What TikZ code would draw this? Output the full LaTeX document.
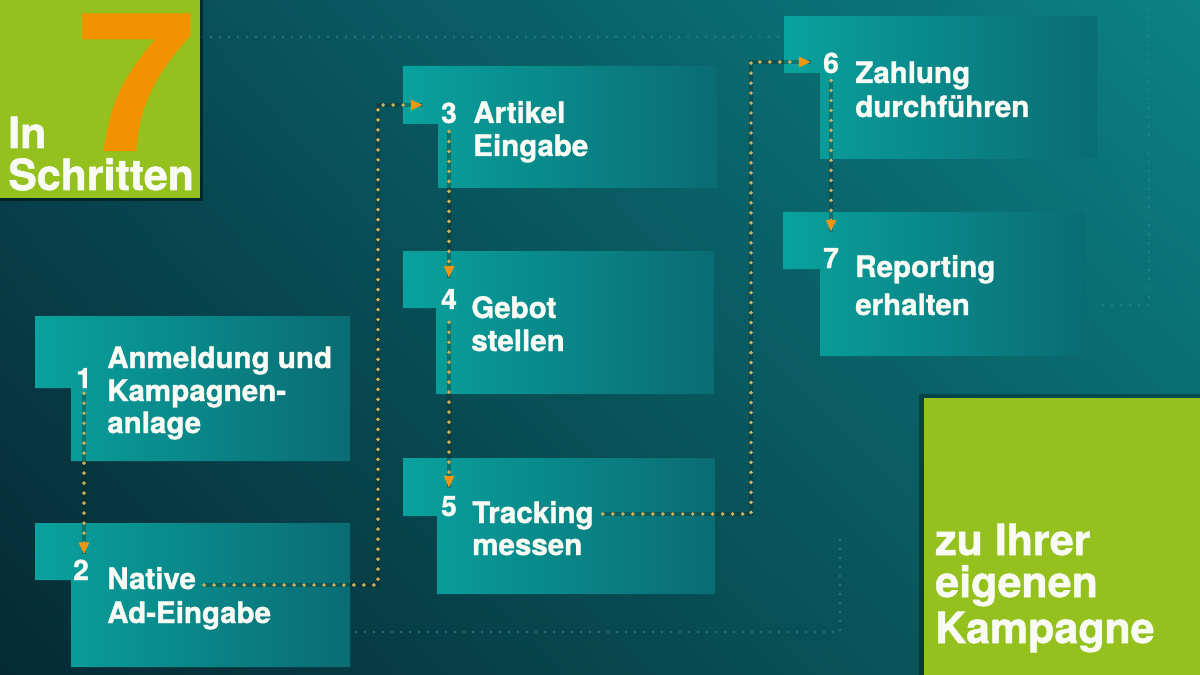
\documentclass[tikz,border=0pt]{standalone}
\usepackage{fontspec}
\setmainfont{TeX Gyre Heros}[BoldFeatures={FakeBold=1.2}]
\usepackage{graphicx}
\usetikzlibrary{arrows.meta,calc,shadings}
\definecolor{bgUL}{RGB}{8,70,82}
\definecolor{bgUR}{RGB}{11,130,132}
\definecolor{bgLL}{RGB}{5,42,52}
\definecolor{bgLR}{RGB}{10,96,102}
\definecolor{boxL}{RGB}{9,162,158}
\definecolor{boxR}{RGB}{10,108,115}
\definecolor{limeg}{RGB}{149,193,31}
\definecolor{oranges}{RGB}{243,146,0}
\definecolor{dotc}{RGB}{208,178,90}
\definecolor{dotsh}{RGB}{20,40,30}
\definecolor{arrc}{RGB}{240,150,20}
\definecolor{faintc}{RGB}{45,135,140}
\definecolor{txt}{RGB}{248,250,244}
\newcommand\stepshape[6]{%
  \path[boxfill] (#1,#2) -- (#3,#2) -- (#3,#4) -- (#5,#4) -- (#5,#6) -- (#1,#6) -- cycle;}
\tikzset{
  boxfill/.style={left color=boxL, right color=boxR, draw=none},
  num/.style={font=\fontsize{20}{20}\selectfont\bfseries, text=txt, inner sep=0pt, anchor=base},
  lbl/.style={font=\fontsize{21}{21}\selectfont\bfseries, text=txt, inner sep=0pt, anchor=base west},
  big/.style={font=\fontsize{30.5}{30.5}\selectfont\bfseries, text=txt, inner sep=0pt, anchor=base west},
  conn/.style={draw=dotc, line width=2.8pt, line cap=round, dash pattern=on 0pt off 7.1pt,
    preaction={draw=dotsh, draw opacity=0.35, line width=3.4pt, arrows=-},
    -{Triangle[length=8.5pt,width=7pt,color=arrc,fill=arrc]}},
  faint/.style={draw=faintc, line width=2pt, line cap=round, dash pattern=on 0pt off 6.4pt, opacity=0.7},
}
\begin{document}
\begin{tikzpicture}[x=0.025cm,y=-0.025cm]
\useasboundingbox (0,0) rectangle (1200,675);
% background
\path[upper left=bgUL, upper right=bgUR, lower left=bgLL, lower right=bgLR] (0,0) rectangle (1200,675);
% faint background dotted lines
\draw[faint] (202,37) -- (790,37);
\draw[faint] (1149,0) -- (1149,305) -- (1098,305);
\draw[faint] (347,632) -- (840,632) -- (840,540);
% top-left green block
\fill[black, opacity=0.45] (0,0) rectangle (203,201);
\fill[limeg] (0,0) rectangle (200,198);
\node[inner sep=0pt, anchor=base, text=oranges, font=\fontsize{136}{136}\selectfont\bfseries] (seven) at (136,150) {\scalebox{1.11}[1]{7}};
\node[big] (in) at (8,148) {In};
\node[big] (schritte) at (8,190) {Schritten};
% bottom-right green block
\fill[black, opacity=0.3] (919,394) rectangle (1200,675);
\fill[limeg] (924,398) rectangle (1200,675);
\node[big] (zu) at (935,555) {zu Ihrer};
\node[big] (eig) at (935,597) {eigenen};
\node[big] (kamp) at (935,643) {Kampagne};
% step boxes
\stepshape{35}{316}{350}{461}{71}{388}
\stepshape{35}{523}{350}{667}{71}{580}
\stepshape{403}{66}{717}{188}{438}{124}
\stepshape{403}{251}{714}{394}{436}{308}
\stepshape{403}{458}{715}{594}{437}{516}
\stepshape{784}{16}{1097}{159}{820}{73}
\stepshape{783}{212}{1085}{356}{820}{269}
% numbers
\node[num] (n1) at (84,388) {1};
\node[num] (n2) at (81,580) {2};
\node[num] (n3) at (449,123) {3};
\node[num] (n4) at (449,309) {4};
\node[num] (n5) at (449,516) {5};
\node[num] (n6) at (831,73) {6};
\node[num] (n7) at (831,268) {7};
% labels
\node[lbl] (l1a) at (107,368) {Anmeldung und};
\node[lbl] (l1b) at (107,401) {Kampagnen-};
\node[lbl] (l1c) at (107,433) {anlage};
\node[lbl] (l2a) at (107,589) {Native};
\node[lbl] (l2b) at (107,623) {Ad-Eingabe};
\node[lbl] (l3a) at (473,123) {Artikel};
\node[lbl] (l3b) at (473,156) {Eingabe};
\node[lbl] (l4a) at (471,318) {Gebot};
\node[lbl] (l4b) at (471,351) {stellen};
\node[lbl] (l5a) at (472,523) {Tracking};
\node[lbl] (l5b) at (472,555) {messen};
\node[lbl] (l6a) at (855,83) {Zahlung};
\node[lbl] (l6b) at (855,117) {durchführen};
\node[lbl] (l7a) at (855,277) {Reporting};
\node[lbl] (l7b) at (855,315) {erhalten};
% connector corner coordinates
\coordinate (c23) at (378,105);
\coordinate (c56) at (751,62);
% connectors
\draw[conn] ($(n1.south)+(0,5)$) -- ($(n1.south |- n2.north)+(0,-5)$);
\draw[conn] ($(l2a.base east)+(8,-4)$) -| (c23) -- ($(n3.west |- c23)+(-18,0)$);
\draw[conn] ($(n3.south)+(0,8)$) -- ($(n3.south |- n4.north)+(0,-11)$);
\draw[conn] ($(n4.south)+(0,13)$) -- ($(n4.south |- n5.north)+(0,-8)$);
\draw[conn] ($(l5a.base east)+(9,-9)$) -| (c56) -- ($(n6.west |- c56)+(-12,0)$);
\draw[conn] ($(n6.south)+(0,7)$) -- ($(n6.south |- n7.north)+(0,-16)$);
\end{tikzpicture}
\end{document}
